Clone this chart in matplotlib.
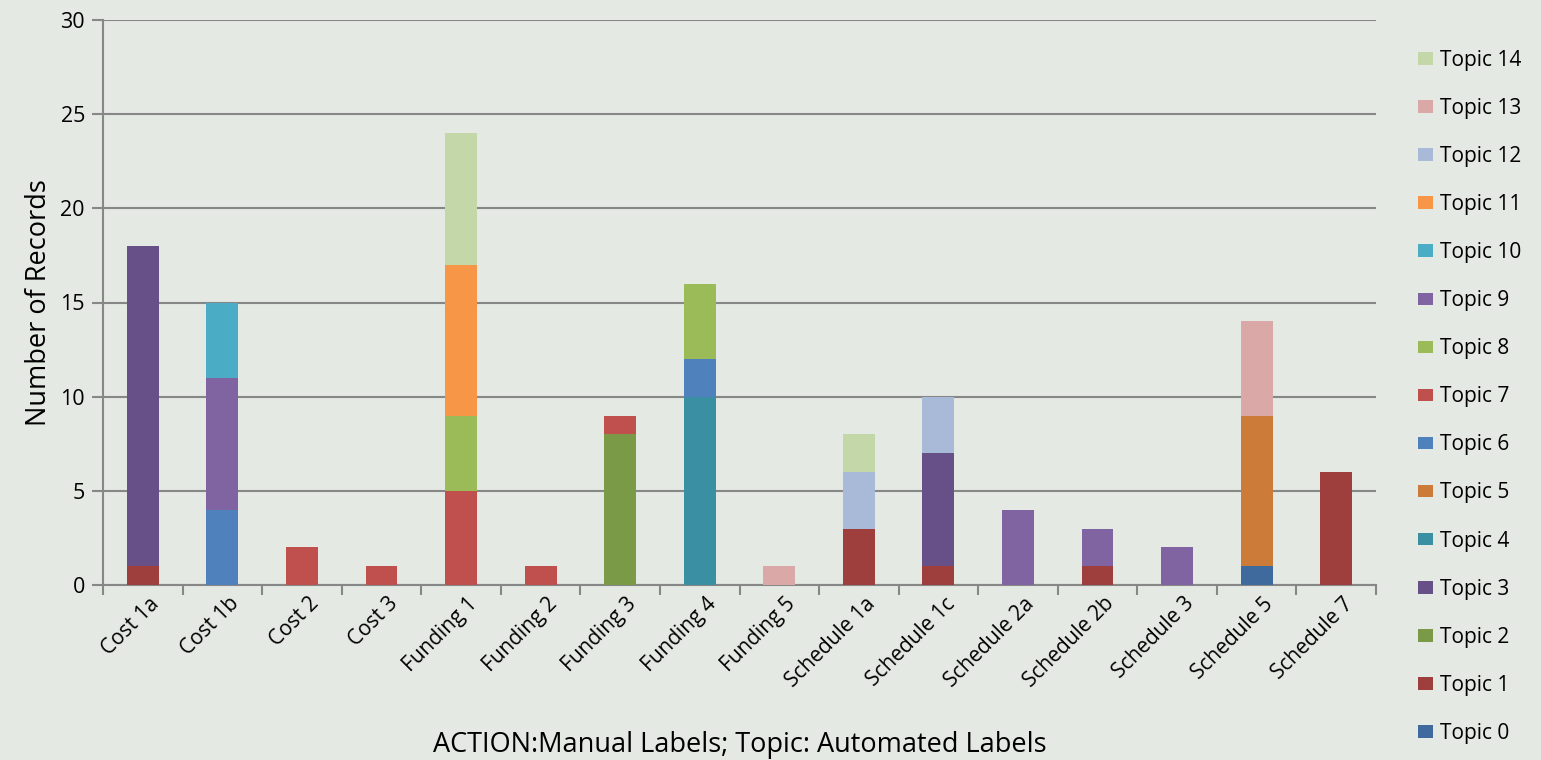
import matplotlib
matplotlib.use("Agg")
import matplotlib.pyplot as plt
import matplotlib.transforms as mtransforms
import numpy as np

plt.rcParams['font.family'] = ['Open Sans', 'DejaVu Sans']

categories = ["Cost 1a", "Cost 1b", "Cost 2", "Cost 3", "Funding 1", "Funding 2",
              "Funding 3", "Funding 4", "Funding 5", "Schedule 1a", "Schedule 1c",
              "Schedule 2a", "Schedule 2b", "Schedule 3", "Schedule 5", "Schedule 7"]

topic_names = [f"Topic {i}" for i in range(15)]

#            C1a C1b C2 C3 F1 F2 F3 F4 F5 S1a S1c S2a S2b S3 S5 S7
topic0  = [0, 0, 0, 0, 0, 0, 0, 0, 0, 0, 0, 0, 0, 0, 1, 0]
topic1  = [1, 0, 0, 0, 0, 0, 0, 0, 0, 3, 1, 0, 1, 0, 0, 6]
topic2  = [0, 0, 0, 0, 0, 0, 8, 0, 0, 0, 0, 0, 0, 0, 0, 0]
topic3  = [17, 0, 0, 0, 0, 0, 0, 0, 0, 0, 6, 0, 0, 0, 0, 0]
topic4  = [0, 0, 0, 0, 0, 0, 0, 10, 0, 0, 0, 0, 0, 0, 0, 0]
topic5  = [0, 0, 0, 0, 0, 0, 0, 0, 0, 0, 0, 0, 0, 0, 8, 0]
topic6  = [0, 4, 0, 0, 0, 0, 0, 2, 0, 0, 0, 0, 0, 0, 0, 0]
topic7  = [0, 0, 2, 1, 5, 1, 1, 0, 0, 0, 0, 0, 0, 0, 0, 0]
topic8  = [0, 0, 0, 0, 4, 0, 0, 4, 0, 0, 0, 0, 0, 0, 0, 0]
topic9  = [0, 7, 0, 0, 0, 0, 0, 0, 0, 0, 0, 4, 2, 2, 0, 0]
topic10 = [0, 4, 0, 0, 0, 0, 0, 0, 0, 0, 0, 0, 0, 0, 0, 0]
topic11 = [0, 0, 0, 0, 8, 0, 0, 0, 0, 0, 0, 0, 0, 0, 0, 0]
topic12 = [0, 0, 0, 0, 0, 0, 0, 0, 0, 3, 3, 0, 0, 0, 0, 0]
topic13 = [0, 0, 0, 0, 0, 0, 0, 0, 1, 0, 0, 0, 0, 0, 5, 0]
topic14 = [0, 0, 0, 0, 7, 0, 0, 0, 0, 2, 0, 0, 0, 0, 0, 0]

series = [topic0, topic1, topic2, topic3, topic4, topic5, topic6, topic7,
          topic8, topic9, topic10, topic11, topic12, topic13, topic14]

colors = ["#3f6a9e", "#9e3f3d", "#7a9a48", "#674f87", "#3a8fa3", "#cd7b38",
          "#4f81bd", "#c0504d", "#9bbb59", "#8064a2", "#4bacc6", "#f79646",
          "#a9bad8", "#dba8a8", "#c4d7a8"]

bg = "#e5e9e3"
fig = plt.figure(figsize=(15.41, 7.60), dpi=100, facecolor=bg)
ax = fig.add_axes([103/1541, 1 - 585/760, (1376-103)/1541, (585-20)/760])
ax.set_facecolor("none")

x = np.arange(len(categories))
bottom = np.zeros(len(categories))
handles = []
for name, vals, c in zip(topic_names, series, colors):
    v = np.array(vals, dtype=float)
    h = ax.bar(x, v, width=0.4, bottom=bottom, color=c, label=name, zorder=3)
    handles.append(h)
    bottom += v

ax.set_xlim(-0.5, len(categories) - 0.5)
ax.set_ylim(0, 30)
ax.set_yticks(np.arange(0, 31, 5))
ax.yaxis.grid(True, color="#878787", linewidth=1.5, zorder=0)
ax.set_axisbelow(True)
for s in ["top", "right"]:
    ax.spines[s].set_visible(False)
for s in ["left", "bottom"]:
    ax.spines[s].set_color("#878787")
    ax.spines[s].set_linewidth(1.5)

ax.set_xticks(x)
ax.set_xticklabels(categories, rotation=45, ha="right", rotation_mode="anchor", fontsize=15)
ax.tick_params(axis="x", which="major", length=0, pad=6)
ax.set_xticks(np.arange(-0.5, len(categories), 1), minor=True)
ax.tick_params(axis="x", which="minor", length=7, width=1.5, color="#878787", direction="out")
ax.tick_params(axis="y", length=8, width=1.5, color="#878787", labelsize=15.5, pad=5)
offset = mtransforms.ScaledTranslation(6/100, 0, fig.dpi_scale_trans)
for lbl in ax.get_xticklabels():
    lbl.set_transform(lbl.get_transform() + offset)

ax.set_ylabel("Number of Records", fontsize=19.5, labelpad=5)
fig.text(740/1541, 1 - 745/760, "ACTION:Manual Labels; Topic: Automated Labels",
         fontsize=19.5, ha="center", va="center")

leg = fig.legend(handles[::-1], topic_names[::-1], loc="upper left",
                 bbox_to_anchor=(1399/1541, 1 - 31/760), frameon=False,
                 fontsize=15, labelspacing=1.30, handlelength=0.72, handleheight=0.55,
                 handletextpad=0.35)

fig.savefig("out.png", dpi=100, facecolor=bg)
